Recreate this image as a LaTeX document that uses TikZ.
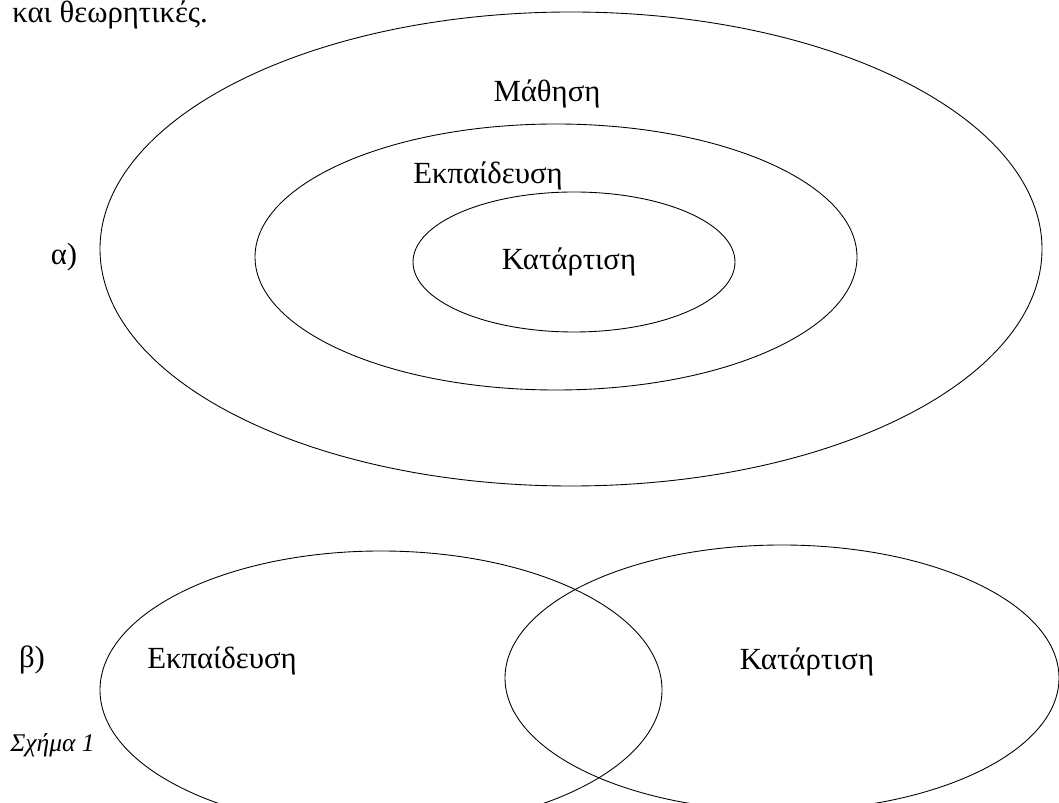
\documentclass[tikz,border=0pt]{standalone}
\usepackage{fontspec}
\setmainfont{Liberation Serif}
\usepackage{tikz}

\tikzset{
  label text/.style={inner sep=0pt, font=\fontsize{17.5}{20}\selectfont},
  caption text/.style={inner sep=0pt, font=\fontsize{14.5}{17}\selectfont\itshape},
  set line/.style={line width=0.5pt}
}

\begin{document}
\begin{tikzpicture}[x=0.02cm,y=-0.02cm]
            % page frame
            \useasboundingbox (0,0) rectangle (1059,803);
            \clip (0,0) rectangle (1059,803);

            % end of the text above the figure
            \node[label text, anchor=base west] (prev) at (12,23) {και θεωρητικές.};

            % a) nested sets
            \draw[set line] (571,249) ellipse (471 and 237);
            \draw[set line] (556,257) ellipse (301 and 133);
            \draw[set line] (574,262) ellipse (161 and 70);

            \node[label text] (mathisi) at (547,94) {Μάθηση};
            \node[label text] (ekpA) at (488,176) {Εκπαίδευση};
            \node[label text] (katA) at (569,262) {Κατάρτιση};
            \node[label text] (alpha) at (64,257) {α)};

            % b) overlapping sets
            \draw[set line] (381,690) ellipse (281 and 139);
            \draw[set line] (782,678) ellipse (277 and 133);

            \node[label text] (beta) at (32,660) {β)};
            \node[label text] (ekpB) at (222,661) {Εκπαίδευση};
            \node[label text] (katB) at (807,662) {Κατάρτιση};

            % caption
            \node[caption text, anchor=west] (schima) at (10,745) {Σχήμα 1};
        \end{tikzpicture}
\end{document}
